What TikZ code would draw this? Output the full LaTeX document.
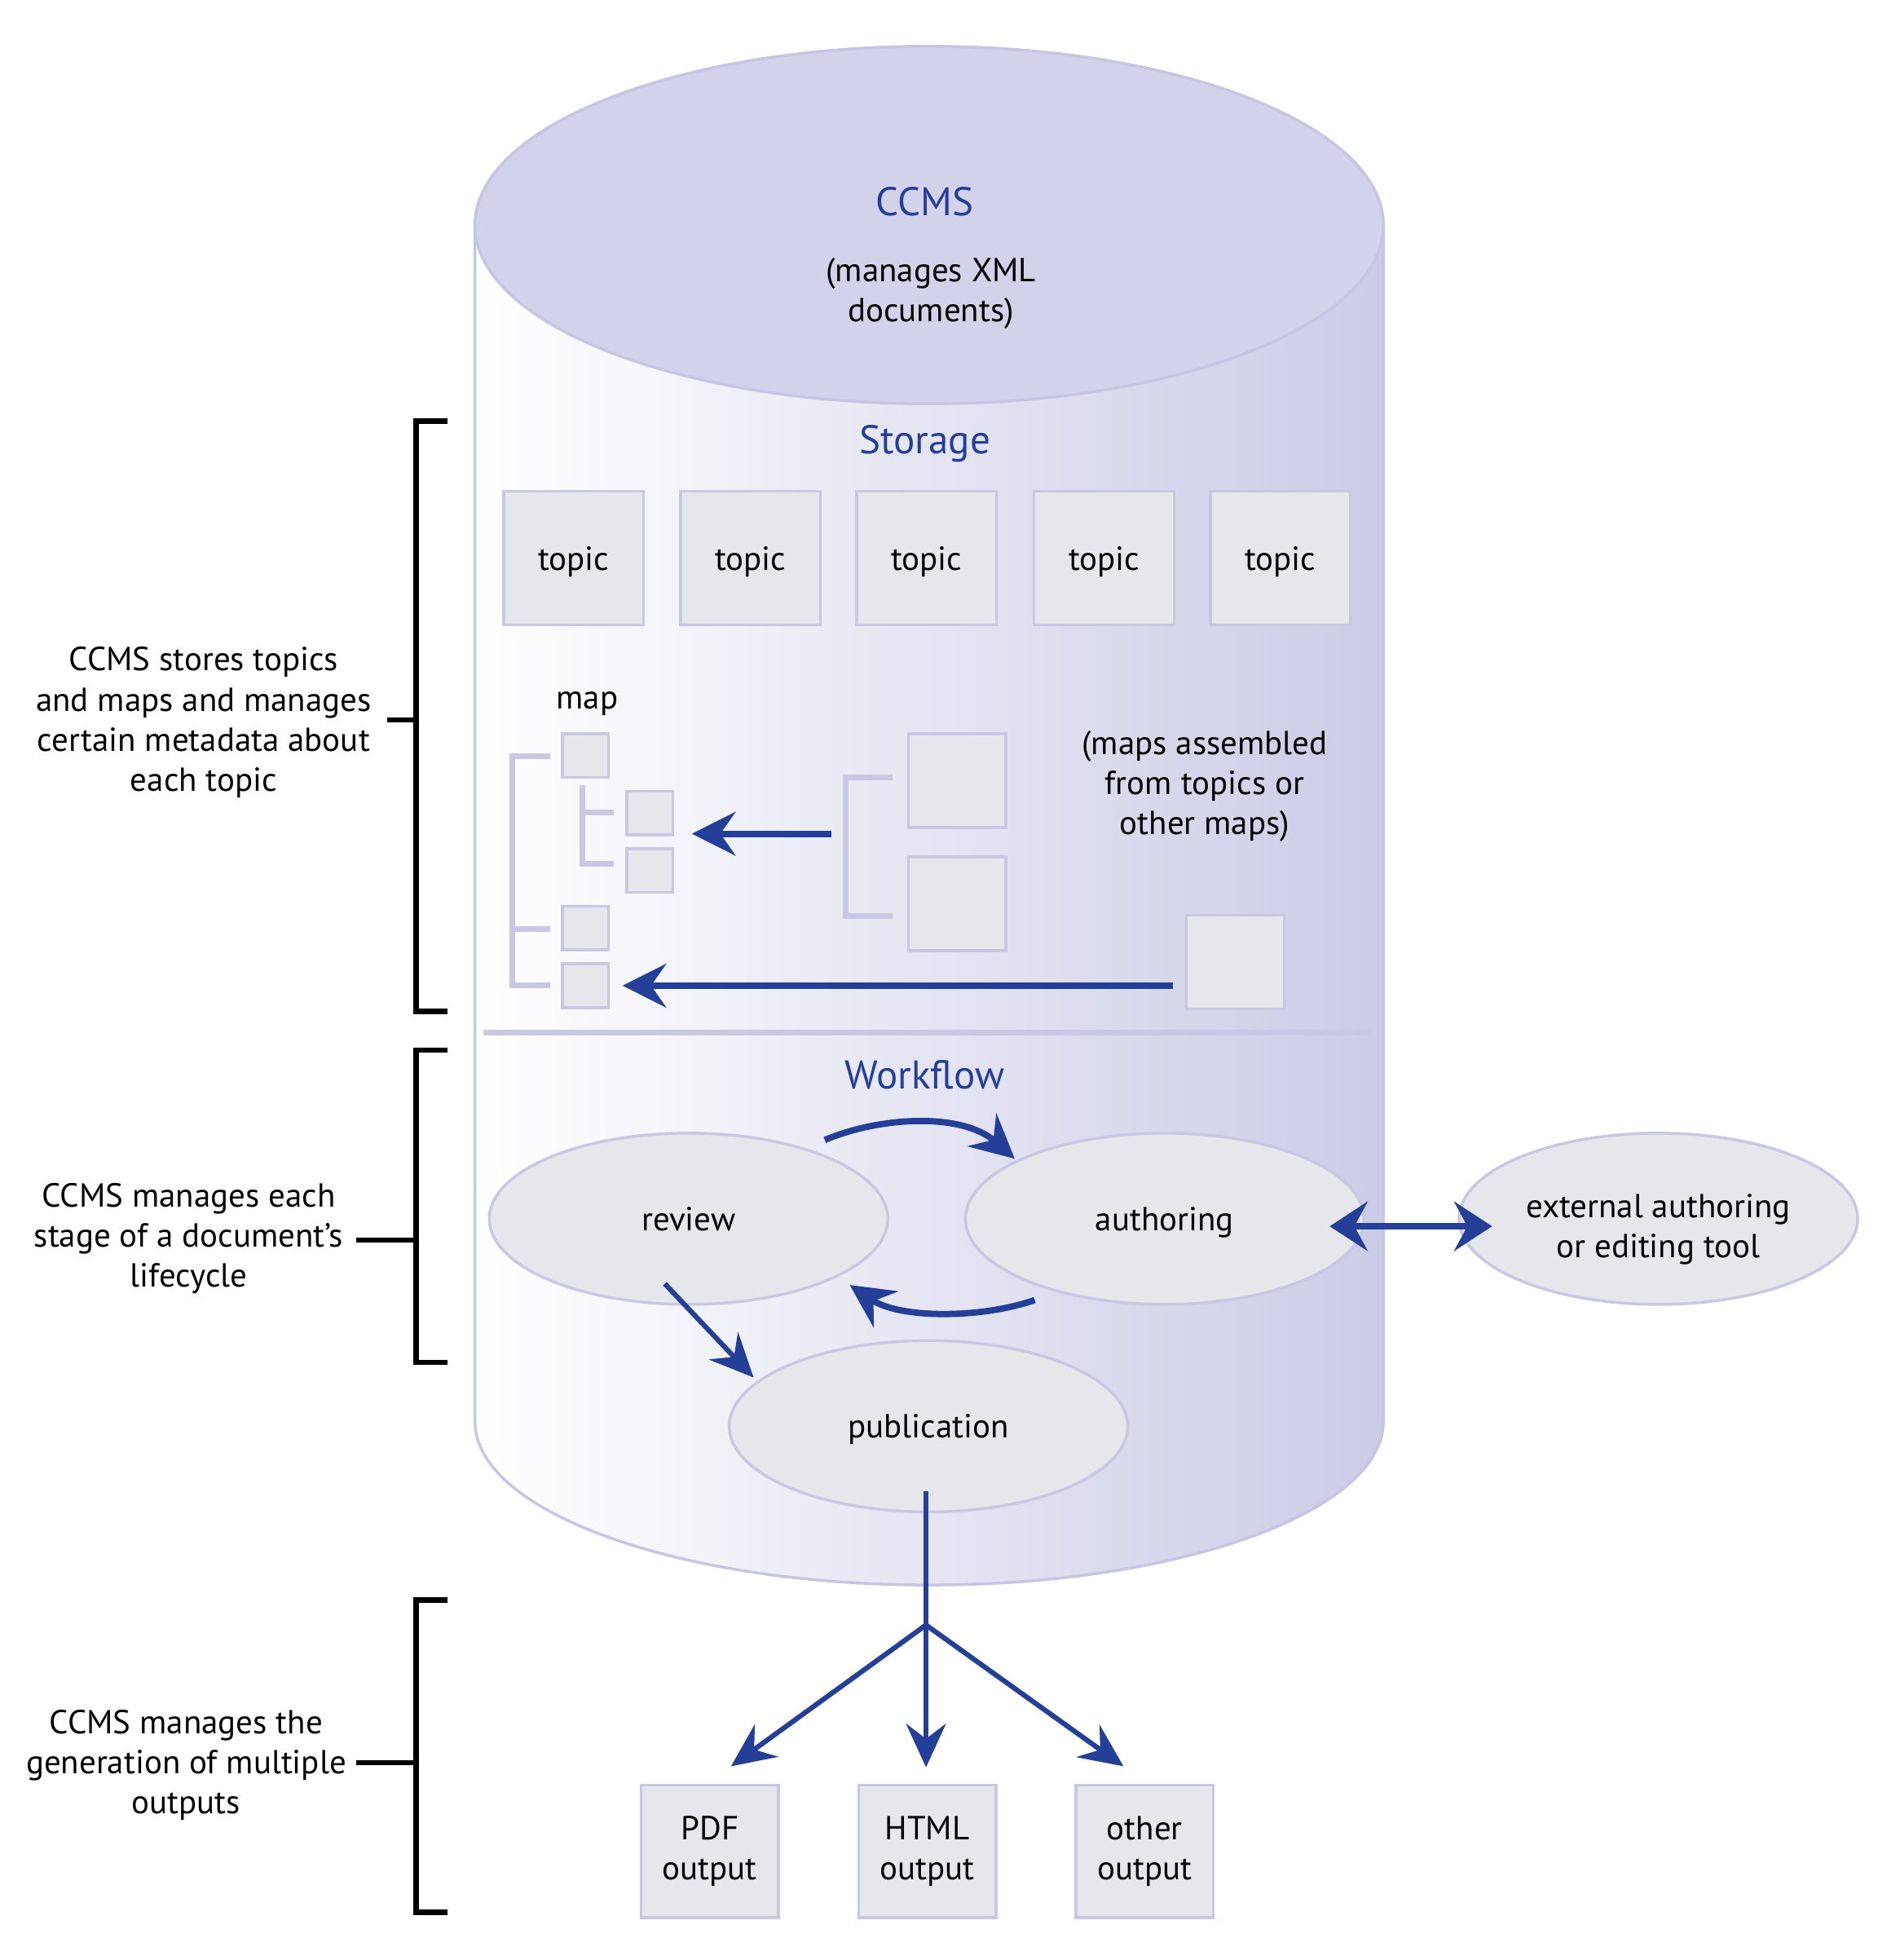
\documentclass[tikz,border=0pt]{standalone}
\usepackage{fontspec}
\setmainfont{PT Sans}
\usetikzlibrary{arrows.meta,shapes.geometric}
\definecolor{ccmsblue}{HTML}{233F97}
\definecolor{cylfill}{HTML}{CBCBE6}
\definecolor{cyltop}{HTML}{D2D2EA}
\definecolor{cylline}{HTML}{C6C6E4}
\definecolor{boxfill}{HTML}{E6E7EA}
\definecolor{boxline}{HTML}{C8C8E5}
\newcommand{\pxu}{0.1316mm}
\tikzset{
  topicbox/.style={draw=boxline,fill=boxfill,line width=0.3mm,inner sep=0pt,text depth=0pt,minimum width=112*\pxu,minimum height=107*\pxu},
  smallbox/.style={draw=boxline,fill=boxfill,line width=0.3mm,inner sep=0pt,minimum width=37*\pxu,minimum height=35*\pxu},
  bigbox/.style={draw=boxline,fill=boxfill,line width=0.3mm,inner sep=0pt,minimum width=78*\pxu,minimum height=75*\pxu},
  outbox/.style={draw=boxline,fill=boxfill,line width=0.3mm,inner sep=0pt,minimum width=110*\pxu,minimum height=106*\pxu,align=center},
  stage/.style={ellipse,draw=boxline,fill=boxfill,line width=0.3mm,inner sep=0pt,text depth=0pt,minimum width=319*\pxu,minimum height=137*\pxu,align=center},
  tree/.style={draw=boxline,line width=0.6mm},
  heading/.style={text=ccmsblue,font=\large},
  bigarrow/.style={draw=ccmsblue,line width=1.9pt,-{Stealth[length=4.6mm,width=4.6mm,inset=1.6mm]}},
  twoarrow/.style={draw=ccmsblue,line width=1.9pt,{Stealth[length=4mm,width=5.2mm,inset=1.4mm]}-{Stealth[length=4mm,width=5.2mm,inset=1.4mm]}},
  outarrow/.style={draw=ccmsblue,line width=1.5pt,-{Stealth[length=4.6mm,width=4.2mm,inset=1.6mm]}},
  brace/.style={draw=black,line width=1.6pt},
  note/.style={align=center}
}
\begin{document}
\begin{tikzpicture}[x=\pxu,y=-\pxu]
		\useasboundingbox (0,0) rectangle (1520,1568);
		% cylinder
		\shade [left color=white,right color=cylfill] (380,180) -- (380,1137) arc[start angle=180,end angle=0,x radius=363.5,y radius=131] -- (1107,180) -- cycle;
		\draw [cylline,line width=0.3mm] (380,180) -- (380,1137) arc[start angle=180,end angle=0,x radius=363.5,y radius=131] -- (1107,180);
		\node [ellipse,draw=cylline,fill=cyltop,line width=0.3mm,minimum width=727*\pxu,minimum height=286*\pxu] (lid) at (743.5,180) {};
		\node [heading] (ccms) at (740,161) {CCMS};
		\node [note] (xml) at (745,235) {(manages XML\\documents)};
		% storage
		\node [heading] (storage) at (740,355) {Storage};
		\node [topicbox] (topic1) at (459,446.5) {topic};
		\node [topicbox] (topic2) at (600.5,446.5) {topic};
		\node [topicbox] (topic3) at (741.5,446.5) {topic};
		\node [topicbox] (topic4) at (883.5,446.5) {topic};
		\node [topicbox] (topic5) at (1024.5,446.5) {topic};
		% map tree
		\node (maplabel) at (470,563) {map};
		\node [smallbox] (leaf1) at (468.5,604.5) {};
		\node [smallbox] (leaf2) at (520,650.5) {};
		\node [smallbox] (leaf3) at (520,696.5) {};
		\node [smallbox] (leaf4) at (468.5,742.5) {};
		\node [smallbox] (leaf5) at (468.5,788.5) {};
		\draw [tree] (440,605) -- (410,605) -- (410,788) -- (440,788);
		\draw [tree] (410,743) -- (440,743);
		\draw [tree] (466,628) -- (466,691) -- (491,691);
		\draw [tree] (466,650) -- (491,650);
		% submap and single topic
		\node [bigbox] (sub1) at (766,624.5) {};
		\node [bigbox] (sub2) at (766,723) {};
		\draw [tree] (714,622) -- (677,622) -- (677,733) -- (714,733);
		\node [bigbox] (single) at (988.5,769.5) {};
		\coordinate (subroot) at (665,667);
		\draw [bigarrow,shorten >=14*\pxu] (subroot) -- (leaf2.east |- subroot);
		\draw [bigarrow,shorten <=10*\pxu,shorten >=10*\pxu] (single.west |- leaf5) -- (leaf5.east);
		\node [note] (assembled) at (964,629) {(maps assembled\\from topics or\\other maps)};
		% divider
		\draw [draw=boxline,line width=0.66mm] (387,826) -- (1098,826);
		% workflow
		\node [heading] (workflow) at (740,860) {Workflow};
		\node [stage] (review) at (551,975) {review};
		\node [stage] (authoring) at (932,975) {authoring};
		\node [stage] (publication) at (743,1141) {publication};
		\node [stage,text depth=] (external) at (1327,975) {\rule{0pt}{13.5pt}external authoring\\or editing tool};
		\coordinate (rvtop) at (660,912);
		\coordinate (autop) at (812,927);
		\coordinate (aubot) at (828,1040);
		\coordinate (rvbot) at (680,1028);
		\draw [bigarrow] (rvtop) .. controls (705,893) and (770,890) .. (autop);
		\draw [bigarrow] (aubot) .. controls (785,1055) and (720,1055) .. (rvbot);
		\coordinate (rvout) at (532,1027);
		\coordinate (pubin) at (603,1102);
		\draw [outarrow] (rvout) -- (pubin);
		\coordinate (auright) at (1064,981);
		\coordinate (extleft) at (1194,981);
		\draw [twoarrow] (auright) -- (extleft);
		% outputs
		\coordinate (pubout) at (741,1193);
		\coordinate (fork) at (741,1300);
		\draw [ccmsblue,line width=1.3pt] (pubout) -- (fork);
		\node [outbox] (pdf) at (568,1481) {PDF\\output};
		\node [outbox] (html) at (742,1481) {HTML\\output};
		\node [outbox] (other) at (916,1481) {other\\output};
		\coordinate (pdfin) at (585,1413);
		\coordinate (otherin) at (899,1413);
		\draw [outarrow] (fork) -- (pdfin);
		\draw [outarrow,shorten >=13*\pxu] (fork) -- (fork |- html.north);
		\draw [outarrow] (fork) -- (otherin);
		% brackets on the left
		\draw [brace] (358,337) -- (333,337) -- (333,809) -- (358,809);
		\draw [brace] (310,576) -- (333,576);
		\node [note] (storenote) at (163,578) {CCMS stores topics\\and maps and manages\\certain metadata about\\each topic};
		\draw [brace] (358,840) -- (333,840) -- (333,1090) -- (358,1090);
		\draw [brace] (285,992) -- (333,992);
		\node [note] (flownote) at (151,991) {CCMS manages each\\stage of a document’s\\lifecycle};
		\draw [brace] (358,1280) -- (333,1280) -- (333,1530) -- (358,1530);
		\draw [brace] (285,1410) -- (333,1410);
		\node [note] (outnote) at (149,1412) {CCMS manages the\\generation of multiple\\outputs};
	\end{tikzpicture}
\end{document}
